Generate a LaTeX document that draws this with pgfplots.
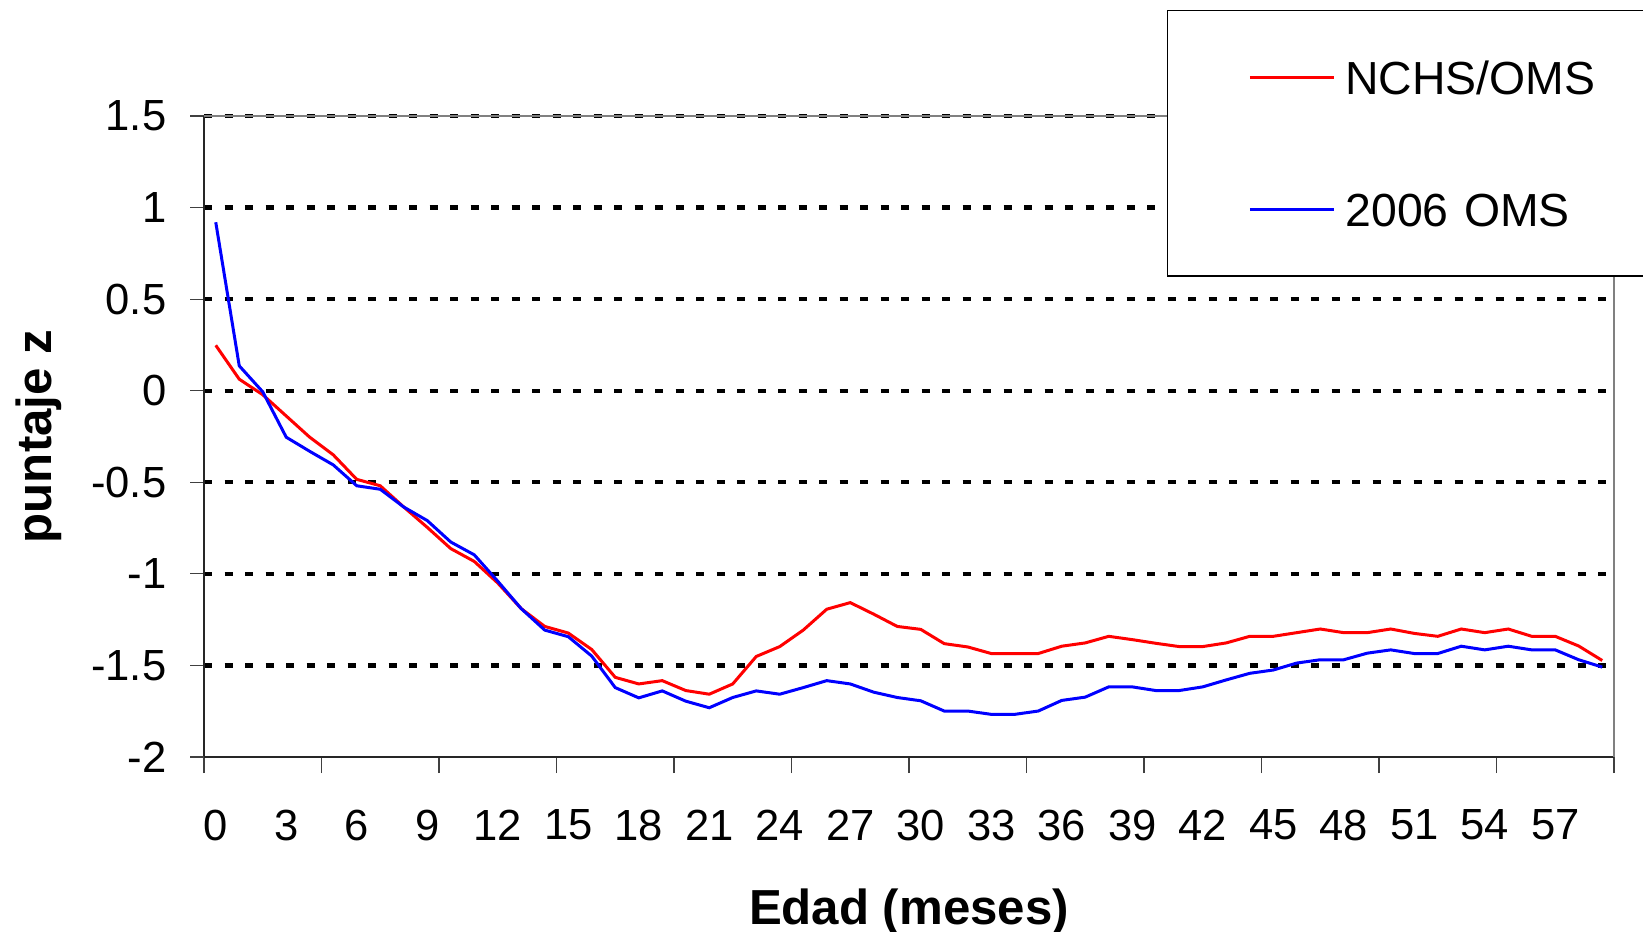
\documentclass[border=0pt]{standalone}
\usepackage{pgfplots}
\pgfplotsset{compat=1.18}
\usepackage{fontspec}
\setmainfont{Liberation Sans}
\pgfplotstableread{
m ncSchs oms
0 0.248 0.92
1 0.063 0.136
2 -0.022 -0.006
3 -0.138 -0.254
4 -0.254 -0.331
5 -0.350 -0.405
6 -0.484 -0.519
7 -0.519 -0.538
8 -0.635 -0.635
9 -0.746 -0.709
10 -0.862 -0.826
11 -0.932 -0.896
12 -1.05 -1.04
13 -1.19 -1.19
14 -1.287 -1.307
15 -1.323 -1.343
16 -1.413 -1.449
17 -1.565 -1.621
18 -1.601 -1.677
19 -1.583 -1.639
20 -1.637 -1.695
21 -1.657 -1.731
22 -1.601 -1.675
23 -1.451 -1.639
24 -1.397 -1.657
25 -1.307 -1.621
26 -1.193 -1.583
27 -1.157 -1.601
28 -1.22 -1.646
29 -1.287 -1.675
30 -1.303 -1.693
31 -1.381 -1.749
32 -1.399 -1.749
33 -1.435 -1.767
34 -1.435 -1.767
35 -1.435 -1.749
36 -1.395 -1.691
37 -1.377 -1.673
38 -1.341 -1.617
39 -1.359 -1.617
40 -1.379 -1.637
41 -1.397 -1.637
42 -1.397 -1.617
43 -1.377 -1.579
44 -1.341 -1.543
45 -1.341 -1.525
46 -1.321 -1.487
47 -1.301 -1.469
48 -1.321 -1.469
49 -1.321 -1.433
50 -1.301 -1.415
51 -1.325 -1.435
52 -1.341 -1.435
53 -1.301 -1.395
54 -1.321 -1.415
55 -1.301 -1.395
56 -1.341 -1.415
57 -1.341 -1.415
58 -1.394 -1.469
59 -1.473 -1.509
}\datatable
\begin{document}
\begin{tikzpicture}
\useasboundingbox (0,0) rectangle (164.3mm,93.1mm);
\begin{axis}[
  at={(20.4mm,17.4mm)}, anchor=south west,
  scale only axis, width=141mm, height=64.1mm,
  xmin=-0.5, xmax=59.5, ymin=-2, ymax=1.5,
  enlargelimits=false, clip=false,
  axis lines=left,
  axis line style={-, black!85, line width=0.55pt},
  xtick={0,3,...,57},
  xticklabels={0,3,6,9,12,15,18,21,24,27,30,33,36,39,42,45,48,51,54,57},
  minor xtick={-0.5,4.5,...,59.5},
  ytick={-1.5,-1,-0.5,0,0.5,1,1.5},
  yticklabels={-1.5,-1,-0.5,0,0.5,1,1.5},
  extra y ticks={-2},
  extra y tick labels={-2},
  extra y tick style={grid=none},
  tick align=outside,
  major tick length=1.4mm, minor tick length=1.6mm,
  major x tick style={draw=none},
  tick style={black!75, line width=0.35pt},
  ymajorgrids,
  major grid style={black, line width=1.2pt, dash pattern=on 0.8mm off 1.25mm},
  tick label style={font=\fontsize{12.4}{14}\selectfont},
  xticklabel style={inner sep=0pt, anchor=north, yshift=-3.8mm},
  yticklabel style={inner sep=0pt, anchor=east, xshift=-2.3mm},
  xlabel={Edad (meses)},
  ylabel={puntaje z},
  xlabel style={at={(axis description cs:0.5,-0.2605)}, anchor=base, inner sep=0pt, font=\bfseries\fontsize{14}{16}\selectfont},
  ylabel style={at={(axis description cs:-0.1078,0.5)}, anchor=base, inner sep=0pt, font=\bfseries\fontsize{14}{16}\selectfont},
  legend image code/.code={\draw[#1] (0mm,0mm) -- (8.4mm,0mm);},
  legend style={at={(axis description cs:0.683,1.1654)}, anchor=north west,
    draw=black, line width=0.4pt, fill=white,
    inner xsep=8.07mm, inner ysep=5mm, row sep=9.85mm,
    font=\fontsize{13.2}{16}\selectfont,
    nodes={inner sep=0pt, text height=3.35mm, text depth=0pt, text width=32mm, align=left},
    /tikz/every odd column/.append style={column sep=1mm}},
  legend cell align=left,
]
\addplot[red, line width=0.3mm] table[x=m, y=ncSchs] {\datatable};
\addlegendentry{NCHS/OMS}
\addplot[blue, line width=0.3mm] table[x=m, y=oms] {\datatable};
\addlegendentry{2006 OMS}
\draw[black!50, line width=0.6pt] (rel axis cs:0,1) -- (rel axis cs:1,1) -- (rel axis cs:1,0);
\end{axis}
\end{tikzpicture}
\end{document}
